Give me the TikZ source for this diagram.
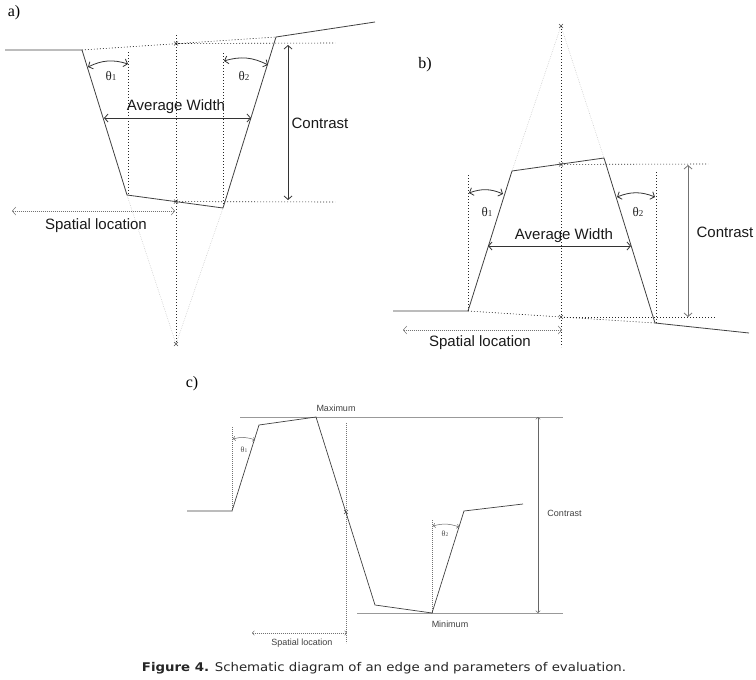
\documentclass[tikz,border=0pt]{standalone}
\usepackage{fontspec}
\setmainfont{Liberation Serif}
\newfontfamily\arialf{Liberation Sans}
\newfontfamily\verdf{DejaVu Sans}
\usetikzlibrary{arrows.meta,shapes.misc}
\begin{document}
\begin{tikzpicture}[x=1pt,y=-1pt,
 prof/.style={draw=black!75, line width=0.8pt},
 dots/.style={draw=black!85, dash pattern=on 1pt off 2pt, line width=0.6pt},
 fdots/.style={draw=black!55, dash pattern=on 0.7pt off 1.3pt, line width=0.5pt},
 faint/.style={draw=black!25, dash pattern=on 0.6pt off 1.2pt, line width=0.5pt},
 dim/.style={draw=black!80, line width=0.8pt, {Straight Barb[length=3.5pt,width=8pt]}-{Straight Barb[length=3.5pt,width=8pt]}},
 sdim/.style={draw=black!60, line width=0.5pt, {Straight Barb[length=2pt,width=4.5pt]}-{Straight Barb[length=2pt,width=4.5pt]}},
 panel/.style={font=\fontsize{16}{16}\selectfont, inner sep=0pt},
 lbl/.style={font=\arialf\fontsize{15}{15}\selectfont, inner sep=0pt, text=black!90},
 slbl/.style={font=\arialf\fontsize{9}{9}\selectfont, inner sep=0pt, text=black!75},
 th/.style={font=\fontsize{13}{13}\selectfont, inner sep=0pt, text=black!85},
 sth/.style={font=\fontsize{8}{8}\selectfont, inner sep=0pt, text=black!70},
 xmark/.style={cross out, draw=black!70, line width=0.5pt, minimum size=3.5pt, inner sep=0pt},
]
\useasboundingbox (0,0) rectangle (756,680);

% ---------------- panel a ----------------
\node[panel] (la) at (14,13) {a)};
\coordinate (a1) at (5,50);
\coordinate (a2) at (82,50);
\coordinate (a3) at (127,195);
\coordinate (a4) at (223,208);
\coordinate (a5) at (276,37);
\coordinate (a6) at (375,22);
\coordinate (aTop) at (176,35);
\coordinate (aA) at (176,344);
\coordinate (aTr) at (335,43);
\coordinate (aBr) at (335,202);
\coordinate (aL1) at (128,52);
\coordinate (aL2) at (128,195);
\coordinate (aR1) at (223,53);
\coordinate (aR2) at (223,208);
\node[xmark] (aT) at (176,43.5) {};
\node[xmark] (aB) at (176,201.6) {};
\node[xmark] (aAx) at (aA) {};
\draw[faint] (a3) -- (aA) -- (a4);
\draw[dots] (a2) -- (a5);
\draw[dots] (aTop) -- (aA);
\draw[dots] (aT.center) -- (aTr);
\draw[dots] (aB.center) -- (aBr);
\draw[dots] (aL1) -- (aL2);
\draw[dots] (aR1) -- (aR2);
\draw[prof] (a1) -- (a2) -- (a3) -- (a4) -- (a5) -- (a6);
\coordinate (aC1) at (288,45);
\coordinate (aC2) at (288,200);
\draw[dim] (aC1) -- (aC2);
\node[lbl] (aCt) at (320,123) {Contrast};
\coordinate (aW1) at (104,118);
\coordinate (aW2) at (251,118);
\draw[dim] (aW1) -- (aW2);
\node[lbl] (aWt) at (176,107) {Average Width};
\coordinate (aq1) at (88,67);
\coordinate (aq2) at (128,64);
\draw[dim] (aq1) to[bend left=22] (aq2);
\node[th] (aqt1) at (111,76) {θ\fontsize{9}{9}\selectfont 1};
\coordinate (ar1) at (224,61);
\coordinate (ar2) at (268,65);
\draw[dim] (ar1) to[bend left=22] (ar2);
\node[th] (aqt2) at (244,76) {θ\fontsize{9}{9}\selectfont 2};
\coordinate (aS1) at (12,211);
\coordinate (aS2) at (175,211);
\draw[fdots,{Straight Barb[length=3.5pt,width=8pt]}-{Straight Barb[length=3.5pt,width=8pt]}] (aS1) -- (aS2);
\node[lbl] (aSt) at (96,226) {Spatial location};

% ---------------- panel b ----------------
\node[panel] (lb) at (425,65) {b)};
\coordinate (b1) at (393,311);
\coordinate (b2) at (468,311);
\coordinate (b3) at (512,171);
\coordinate (b4) at (604,158);
\coordinate (b5) at (655,323);
\coordinate (b6) at (749,333);
\coordinate (bA) at (561,26);
\coordinate (bBot) at (561,347);
\coordinate (bTr) at (708,164);
\coordinate (bBr) at (715,317);
\coordinate (bL1) at (468,175);
\coordinate (bR1) at (656,172);
\coordinate (bR2) at (656,323);
\node[xmark] (bT) at (561,164.4) {};
\node[xmark] (bB) at (561,317) {};
\node[xmark] (bAx) at (bA) {};
\draw[faint] (b3) -- (bA) -- (b4);
\draw[dots] (bA) -- (bBot);
\draw[dots] (bT.center) -- (bTr);
\draw[dots] (b2) -- (b5);
\draw[dots] (bB.center) -- (bBr);
\draw[dots] (bL1) -- (b2);
\draw[dots] (bR1) -- (bR2);
\draw[prof] (b1) -- (b2) -- (b3) -- (b4) -- (b5) -- (b6);
\coordinate (bC1) at (688,165);
\coordinate (bC2) at (688,317);
\draw[dim,draw=black!55] (bC1) -- (bC2);
\node[lbl] (bCt) at (725,232) {Contrast};
\coordinate (bW1) at (488,246);
\coordinate (bW2) at (631,246);
\draw[dim] (bW1) -- (bW2);
\node[lbl] (bWt) at (564,236) {Average Width};
\coordinate (bq1) at (469,193);
\coordinate (bq2) at (503,194);
\draw[dim] (bq1) to[bend left=22] (bq2);
\node[th] (bqt1) at (487,212) {θ\fontsize{9}{9}\selectfont 1};
\coordinate (br1) at (617,197);
\coordinate (br2) at (655,197);
\draw[dim] (br1) to[bend left=22] (br2);
\node[th] (bqt2) at (638,212) {θ\fontsize{9}{9}\selectfont 2};
\coordinate (bS1) at (403,330);
\coordinate (bS2) at (562,330);
\draw[fdots,{Straight Barb[length=3.5pt,width=8pt]}-{Straight Barb[length=3.5pt,width=8pt]}] (bS1) -- (bS2);
\node[lbl] (bSt) at (480,342.5) {Spatial location};

% ---------------- panel c ----------------
\node[panel] (lc) at (192,384) {c)};
\coordinate (c1) at (187,511);
\coordinate (c2) at (232,511);
\coordinate (c3) at (259,425);
\coordinate (c4) at (316,417);
\coordinate (c5) at (375,605);
\coordinate (c6) at (432,613);
\coordinate (c7) at (464,511);
\coordinate (c8) at (523,504);
\coordinate (cMx1) at (240,417);
\coordinate (cMx2) at (563,417);
\coordinate (cMn1) at (357,613);
\coordinate (cMn2) at (563,613);
\coordinate (cV1) at (346,423);
\coordinate (cV2) at (346,643);
\coordinate (cL1) at (232,427);
\coordinate (cR1) at (432,520);
\node[xmark] (cM) at (346,512) {};
\draw[draw=black!40, line width=0.8pt] (cMx1) -- (cMx2);
\draw[draw=black!40, line width=0.8pt] (cMn1) -- (cMn2);
\draw[fdots] (cV1) -- (cV2);
\draw[fdots] (cL1) -- (c2);
\draw[fdots] (cR1) -- (c6);
\draw[prof,line width=0.7pt] (c1) -- (c2) -- (c3) -- (c4) -- (c5) -- (c6) -- (c7) -- (c8);
\node[slbl] (cMxt) at (336,408) {Maximum};
\node[slbl] (cMnt) at (450,624) {Minimum};
\coordinate (cC1) at (538,417);
\coordinate (cC2) at (538,613);
\draw[sdim] (cC1) -- (cC2);
\node[slbl] (cCt) at (564.5,513) {Contrast};
\coordinate (cq1) at (233,439);
\coordinate (cq2) at (255,440);
\draw[sdim] (cq1) to[bend left=18] (cq2);
\node[sth] (cqt1) at (244,450) {θ\fontsize{5.5}{5.5}\selectfont 1};
\coordinate (cr1) at (433,526);
\coordinate (cr2) at (459,527);
\draw[sdim] (cr1) to[bend left=18] (cr2);
\node[sth] (cqt2) at (445,534) {θ\fontsize{5.5}{5.5}\selectfont 2};
\coordinate (cS1) at (252,633);
\coordinate (cS2) at (347,633);
\draw[fdots,{Straight Barb[length=2pt,width=4.5pt]}-{Straight Barb[length=2pt,width=4.5pt]}] (cS1) -- (cS2);
\node[slbl] (cSt) at (302,643) {Spatial location};

% ---------------- caption ----------------
\node[font=\verdf\fontsize{12}{12}\selectfont, inner sep=0pt, text=black!85] (cap) at (384,668) {\scalebox{1.11}[1]{\textbf{Figure 4.} Schematic diagram of an edge and parameters of evaluation.}};
\end{tikzpicture}
\end{document}
